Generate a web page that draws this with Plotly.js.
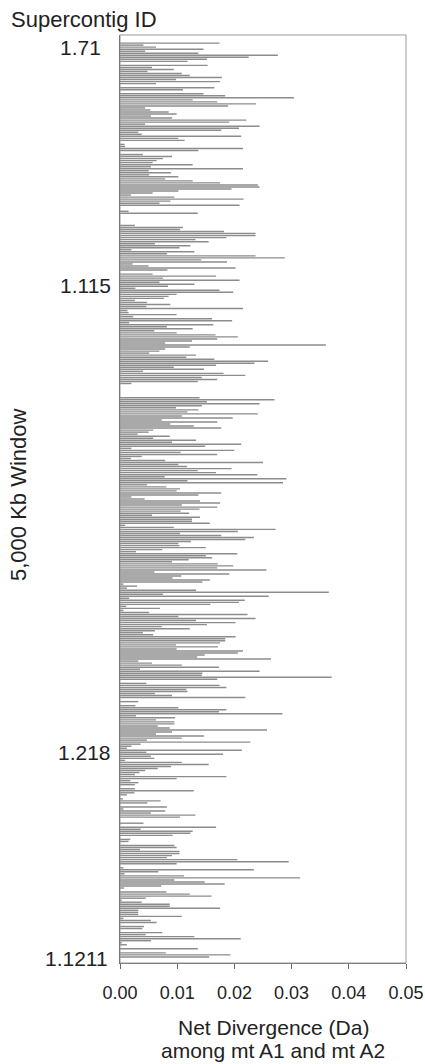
<!DOCTYPE html>
<html>
<head>
<meta charset="utf-8">
<script src="https://cdn.plot.ly/plotly-3.0.1.min.js"></script>
<style>html,body{margin:0;padding:0;background:#fff;}#chart{width:425px;height:1064px;}</style>
</head>
<body>
<div id="chart"></div>
<script>
// Net divergence (Da) per 5,000 Kb window, top to bottom
var divergence = [
0.0174,0.0041,0.0063,0.0146,0.0044,0.0137,0.0276,0.0225,0.0152,0.0118,0,0.0153,0.0056,0.0094,0.0048,0.0108,0.0122,0.0178,0.0098,0.0175,0.0063,0,0.0165,0.0110,0,0.0146,0.0184,0.0304,0.0127,0.0170,0.0238,0.0189,0.0044,0.0053,0.0085,0.0099,0.0054,0.0091,0.0221,0.0191,0.0044,0.0244,0.0208,0.0177,0.0032,0.0038,0.0212,0.0102,0.0113,0,0.0008,0.0009,0.0215,
0.0137,0,0.0040,0.0091,0.0075,0.0064,0.0057,0.0127,0.0054,0.0215,0.0050,0.0089,0.0051,0.0102,0.0079,0.0127,0.0175,0.0241,0.0244,0.0195,0.0102,0.0057,0.0019,0.0095,0.0216,0.0088,0.0069,0.0209,0,0,0.0015,0.0136,0,0,0,0,0,0.0026,0.0110,0.0105,0.0182,0.0237,0.0237,0.0186,0.0132,0.0155,0.0061,0.0123,0.0104,0.0020,0.0130,0.0082,0.0237,0.0288,0.0142,0.0187,0.0022,0.0050,
0.0202,0.0083,0,0.0057,0.0168,0.0075,0.0209,0.0069,0.0130,0.0084,0.0027,0.0174,0.0198,0.0099,0.0085,0.0077,0.0026,0.0047,0.0088,0.0046,0.0215,0.0013,0.0015,0.0099,0.0023,0.0161,0.0196,0.0016,0.0163,0.0082,0.0127,0.0060,0.0099,0.0167,0.0206,0.0170,0.0126,0.0079,0.0360,0.0122,0.0079,0.0069,0.0051,0.0133,0.0116,0.0165,0.0259,0.0235,0.0168,0.0094,0.0147,0.0040,0.0181,0.0219,0.0143,0.0170,0.0136,
0.0020,0,0,0,0,0,0,0.0139,0.0270,0.0152,0.0244,0.0143,0.0098,0.0137,0.0118,0.0241,0.0108,0.0197,0.0073,0.0170,0.0088,0.0129,0.0177,0.0058,0.0050,0.0031,0.0087,0.0058,0.0133,0.0091,0.0212,0.0149,0.0020,0.0200,0.0106,0.0170,0.0038,0.0019,0.0079,0.0250,0.0102,0.0117,0.0195,0.0136,0.0168,0.0240,0.0078,0.0291,0.0118,0.0285,0.0047,0.0081,0.0105,0.0099,0.0177,0.0137,0.0020,0.0043,0.0140,0.0175,
0.0108,0.0170,0.0139,0.0106,0.0121,0.0056,0.0140,0.0126,0.0126,0.0157,0.0009,0.0094,0.0272,0.0206,0.0105,0.0177,0.0234,0.0219,0.0124,0.0102,0.0104,0.0150,0.0074,0.0028,0.0205,0.0150,0.0161,0.0120,0.0091,0.0171,0.0198,0.0170,0.0256,0.0060,0.0191,0.0107,0.0092,0.0157,0.0144,0.0006,0.0030,0.0012,0.0133,0.0365,0.0075,0.0260,0.0016,0.0218,0.0208,0.0158,0.0011,0.0070,0.0006,0.0051,0.0223,0.0102,0.0237,0.0133,0.0202,
0.0152,0.0073,0.0122,0.0061,0.0040,0.0058,0.0202,0.0184,0.0184,0.0175,0.0098,0.0171,0.0099,0.0215,0.0206,0.0148,0.0135,0.0264,0.0032,0.0056,0.0108,0.0173,0.0035,0.0244,0.0144,0.0143,0.0370,0.0170,0,0.0046,0.0174,0.0186,0.0116,0.0118,0.0061,0.0091,0.0219,0,0.0032,0,0.0027,0.0102,0.0186,0.0173,0.0284,0.0028,0.0096,0.0063,0.0095,0.0095,0.0066,0.0087,0.0257,0.0091,0.0063,0.0147,0.0108,0.0047,0.0228,0.0036,
0.0020,0.0012,0.0213,0.0046,0.0180,0.0054,0.0060,0.0009,0.0108,0.0155,0.0089,0.0066,0.0044,0.0034,0.0026,0.0186,0.0099,0.0018,0.0032,0.0026,0,0.0026,0.0129,0.0025,0.0012,0,0.0005,0.0071,0.0048,0,0.0082,0.0006,0.0079,0.0054,0.0132,0.0105,0,0,0.0041,0,0.0168,0.0036,0.0127,0.0123,0.0092,0,0.0018,0.0015,0,0.0095,0.0099,0.0035,0.0104,0.0104,0.0091,0.0082,0.0205,0.0295,0.0099,0,0.0006,
0.0234,0.0067,0.0008,0.0112,0.0315,0.0095,0.0148,0.0183,0.0072,0.0007,0,0.0081,0.0122,0.0160,0.0045,0.0003,0.0038,0.0087,0.0087,0.0175,0.0032,0.0032,0.0032,0.0108,0.0006,0.0054,0.0064,0,0.0042,0.0039,0,0.0074,0.0045,0.0130,0.0211,0.0054,0.0003,0.0012,0,0.0136,0,0.0080,0.0193,0.0156
];
var xTickVals = [0, 0.01, 0.02, 0.03, 0.04, 0.05];
var xTickText = ["0.00", "0.01", "0.02", "0.03", "0.04", "0.05"];
var contigIds = ["1.71", "1.115", "1.218", "1.1211"];
var xTitleLines = ["Net Divergence (Da)", "among mt A1 and mt A2"];

var N = divergence.length;
var windows = divergence.map(function (_, i) { return i; });

var W = 425, H = 1064;
var mL = 120, mR = 19, mT = 35, mB = 101;
var plotH = H - mT - mB;
function paperY(py) { return (H - mB - py) / plotH; }
function paperX(px) { return (px - mL) / (W - mL - mR); }

var font = "Liberation Sans, Arial, sans-serif";
var txt = "#222";
var contigPos = [[103, 47], [113, 285], [113, 752], [110, 958]];
var annotations = contigIds.map(function (t, i) {
  return { text: t, xref: "paper", yref: "paper", x: paperX(contigPos[i][0]), y: paperY(contigPos[i][1]),
    xanchor: "right", yanchor: "middle", showarrow: false, font: { family: font, size: 21, color: txt } };
});
annotations.push({ text: "Supercontig ID", xref: "paper", yref: "paper", x: paperX(9), y: paperY(19),
  xanchor: "left", yanchor: "middle", showarrow: false, font: { family: font, size: 22, color: txt } });
annotations.push({ text: xTitleLines[0], xref: "paper", yref: "paper",
  x: paperX(273), y: paperY(1027), xanchor: "center", yanchor: "middle", showarrow: false,
  font: { family: font, size: 21, color: txt } });
annotations.push({ text: xTitleLines[1], xref: "paper", yref: "paper",
  x: paperX(273), y: paperY(1050), xanchor: "center", yanchor: "middle", showarrow: false,
  font: { family: font, size: 21, color: txt } });
annotations.push({ text: "5,000 Kb Window", xref: "paper", yref: "paper", x: paperX(18), y: paperY(495),
  xanchor: "center", yanchor: "middle", textangle: -90, showarrow: false,
  font: { family: font, size: 22, color: txt } });

var trace = {
  type: "bar", orientation: "h", x: divergence, y: windows,
  marker: { color: "#8c8c8c", line: { width: 0 } },
  hoverinfo: "skip"
};

var layout = {
  width: W, height: H,
  margin: { l: mL, r: mR, t: mT, b: mB, pad: 0 },
  paper_bgcolor: "#fff", plot_bgcolor: "#fff",
  showlegend: false, bargap: 0.3,
  xaxis: { range: [0, 0.05], tickvals: xTickVals, ticktext: xTickText, ticks: "outside", ticklen: 5,
    tickcolor: "#666", showgrid: false, zeroline: false, showline: true, linecolor: "#666", linewidth: 1,
    mirror: false, ticklabelstandoff: 8, tickfont: { family: font, size: 18, color: txt }, fixedrange: true },
  yaxis: { range: [N - 1 + 3, -4], showticklabels: false, ticks: "", showgrid: false, zeroline: false,
    showline: true, linecolor: "#555", linewidth: 1, fixedrange: true },
  shapes: [{ type: "rect", xref: "paper", yref: "paper", x0: 0, x1: 1, y0: 0, y1: 1,
    line: { color: "#999", width: 1 }, fillcolor: "rgba(0,0,0,0)", layer: "above" }],
  annotations: annotations
};

Plotly.newPlot("chart", [trace], layout, { displayModeBar: false, staticPlot: true });
</script>
</body>
</html>
